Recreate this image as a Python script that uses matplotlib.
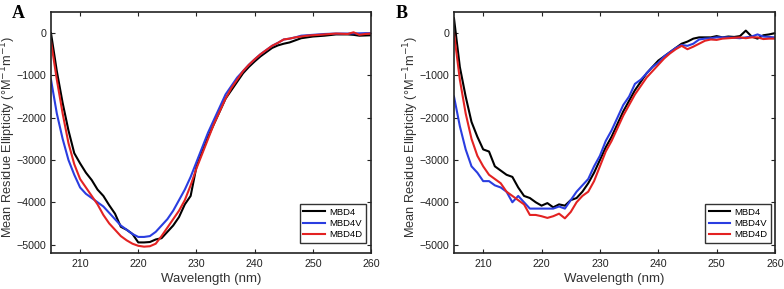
import matplotlib
matplotlib.use("Agg")
import matplotlib.pyplot as plt
import numpy as np

wl = list(range(205, 261))

# Panel A
a_mbd4 = [0, -900, -1650, -2300, -2840, -3080, -3300, -3475, -3700, -3850, -4070, -4270, -4580, -4650,
          -4750, -4950, -4950, -4940, -4880, -4850, -4700, -4550, -4350, -4050, -3850, -3160, -2800,
          -2450, -2150, -1850, -1550, -1350, -1150, -950, -800, -670, -550, -450, -350, -290, -250,
          -220, -170, -120, -100, -80, -70, -60, -45, -30, -30, -30, -40, -60, -55, -50]
a_mbd4v = [-1100, -1900, -2500, -3000, -3350, -3650, -3800, -3900, -4000, -4100, -4250, -4400, -4550,
           -4650, -4750, -4820, -4820, -4800, -4700, -4550, -4400, -4200, -3950, -3700, -3400, -3050,
           -2700, -2350, -2050, -1750, -1450, -1250, -1050, -900, -750, -620, -500, -400, -300, -230,
           -150, -130, -100, -60, -50, -40, -30, -20, -15, -10, -10, -10, -5, -5, 0, 0]
a_mbd4d = [-200, -1100, -1900, -2600, -3100, -3450, -3650, -3850, -4050, -4300, -4500, -4650, -4800,
           -4900, -4980, -5030, -5050, -5040, -4980, -4800, -4600, -4400, -4200, -3950, -3600, -3200,
           -2850, -2500, -2150, -1850, -1550, -1300, -1100, -900, -750, -620, -500, -400, -300, -230,
           -150, -130, -100, -80, -60, -50, -40, -30, -20, -10, -15, -20, 20, -40, -20, -10]

# Panel B
b_mbd4 = [350, -800, -1500, -2100, -2450, -2750, -2800, -3150, -3250, -3350, -3400, -3650, -3850,
          -3900, -4000, -4080, -4020, -4120, -4050, -4080, -3950, -3900, -3750, -3550, -3300, -3000,
          -2700, -2450, -2150, -1850, -1600, -1350, -1150, -950, -800, -650, -550, -450, -350, -250,
          -200, -130, -100, -100, -100, -70, -100, -80, -90, -70, 60, -80, -130, -50, -30, 0]
b_mbd4v = [-1500, -2200, -2750, -3150, -3300, -3500, -3500, -3600, -3650, -3750, -4000, -3850, -4000,
           -4150, -4150, -4150, -4150, -4150, -4100, -4150, -3950, -3750, -3600, -3450, -3150, -2900,
           -2550, -2300, -2000, -1700, -1500, -1200, -1100, -950, -800, -700, -550, -450, -350, -280,
           -300, -250, -150, -130, -120, -100, -100, -100, -110, -120, -100, -80, -30, -80, -90, -100]
b_mbd4d = [0, -1100, -1900, -2500, -2900, -3150, -3350, -3450, -3550, -3750, -3850, -3950, -4050,
           -4300, -4300, -4330, -4370, -4330, -4270, -4380, -4230, -4000, -3850, -3750, -3500, -3150,
           -2800, -2550, -2250, -1950, -1700, -1450, -1250, -1050, -900, -750, -600, -480, -380, -300,
           -380, -320, -250, -180, -150, -160, -130, -120, -110, -100, -120, -100, -100, -140, -130, -130]

series_names = ["MBD4", "MBD4V", "MBD4D"]
colors = ["#000000", "#2a3de0", "#e32222"]
xticks = [210, 220, 230, 240, 250, 260]
yticks = [0, -1000, -2000, -3000, -4000, -5000]

plt.rcParams['font.family'] = ['Liberation Sans', 'DejaVu Sans']

fig = plt.figure(figsize=(7.84, 2.89), dpi=100)
W, H = 784, 289
axA = fig.add_axes([51 / W, 1 - 253 / H, 320 / W, 241 / H])
axB = fig.add_axes([454 / W, 1 - 253 / H, 321 / W, 241 / H])

panels = [(axA, [a_mbd4, a_mbd4v, a_mbd4d], "A", 12, -0.1025, (0.984, 0.041)),
          (axB, [b_mbd4, b_mbd4v, b_mbd4d], "B", 396, -0.104, (0.9875, 0.041))]
for ax, data, letter, lx, ylx, lpos in panels:
    for d, name, c in zip(data, series_names, colors):
        ax.plot(wl, d, color=c, lw=1.5, label=name)
    ax.set_xlim(205, 260)
    ax.set_ylim(-5200, 500)
    ax.set_xticks(xticks)
    ax.set_yticks(yticks)
    ax.tick_params(direction='in', top=True, right=True, length=3, width=0.8,
                   labelsize=7.7, colors='#222222', pad=4)
    ax.tick_params(axis='y', pad=3.5)
    for s in ax.spines.values():
        s.set_linewidth(1.2)
        s.set_color('#222222')
    ax.set_xlabel("Wavelength (nm)", fontsize=9.5, color='#333333', labelpad=3)
    ax.set_ylabel("Mean Residue Ellipticity (°M$^{-1}$m$^{-1}$)", fontsize=9.2, color='#333333')
    ax.yaxis.set_label_coords(ylx, 0.48)
    leg = ax.legend(loc='lower right', bbox_to_anchor=lpos, borderaxespad=0,
                    fontsize=6.8, frameon=True, fancybox=False,
                    handlelength=2.3, handletextpad=0.4, borderpad=0.4, labelspacing=0.25)
    leg.get_frame().set_edgecolor('black')
    leg.get_frame().set_linewidth(1.0)
    fig.text(lx / W, 1 - 14 / H, letter, fontsize=13, fontweight='bold',
             family=['Liberation Serif', 'DejaVu Serif'], va='center', ha='left')

fig.savefig("out.png", dpi=100)
